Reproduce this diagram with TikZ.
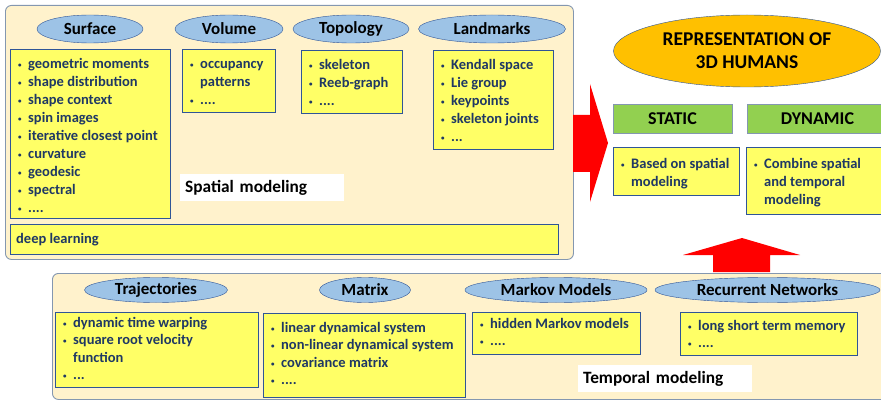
\documentclass[tikz,border=0pt]{standalone}
\usepackage{fontspec}
\setmainfont{Carlito}
\usetikzlibrary{shapes.geometric}

\definecolor{crema}{HTML}{FFF2CC}
\definecolor{amarillo}{HTML}{FFFF66}
\definecolor{celeste}{HTML}{9DC3E6}
\definecolor{oro}{HTML}{FFC000}
\definecolor{verde}{HTML}{92D050}
\definecolor{marino}{HTML}{1F3864}
\definecolor{azul}{HTML}{2F5597}
\definecolor{gris}{HTML}{8497B0}

\def\interlinea{18}
\newcommand{\itm}{\par\noindent\rule{0pt}{13pt}\llap{\makebox[10pt][l]{\raisebox{1pt}{\scriptsize\textbullet}}}}
\newcommand{\lista}[4][6]{\parbox[c][#3pt][t]{#2pt}{\fontsize{14.5}{\interlinea}\selectfont\raggedright
  \leftskip=18pt\parindent=0pt\vspace*{#1pt}#4\par}}

\tikzset{
  marco/.style={draw=gris,fill=crema,line width=0.9pt,rounded corners=6pt,anchor=north west,inner sep=0pt},
  titulo/.style={ellipse,draw=azul,fill=celeste,inner sep=0pt,font=\fontsize{17}{19}\selectfont\bfseries},
  cuadro/.style={draw=azul,fill=amarillo,anchor=north west,inner sep=0pt,text=marino,font=\bfseries},
  verdebox/.style={draw=gris,fill=verde,line width=0.8pt,inner sep=0pt,font=\fontsize{18}{20}\selectfont\bfseries},
  rotulo/.style={fill=white,anchor=north west,inner xsep=5pt,inner ysep=0pt,align=left,font=\fontsize{17.3}{19}\selectfont\bfseries}
}

\begin{document}
\begin{tikzpicture}[x=1pt,y=-1pt]
\useasboundingbox (0,0) rectangle (881,401);
\clip (0,0) rectangle (881,401);

% espacial
\node[marco,minimum width=568pt,minimum height=254pt] (spatial) at (5,5) {};
\node[titulo,minimum width=106pt,minimum height=28pt] (surface) at (90,29) {Surface};
\node[titulo,minimum width=108pt,minimum height=28pt] (volume) at (229,29) {Volume};
\node[titulo,minimum width=116pt,minimum height=28pt] (topology) at (351,29) {Topology};
\node[titulo,minimum width=147pt,minimum height=28pt] (landmarks) at (492,29) {Landmarks};
\node[cuadro] (surfacelist) at (10,49) {\lista{160}{169}{\itm geometric moments\itm shape distribution\itm shape context\itm spin images\itm iterative closest point\itm curvature\itm geodesic\itm spectral\itm ....}};
\node[cuadro] (volumelist) at (182,49) {\lista{93}{63}{\itm occupancy\\patterns\itm ....}};
\node[cuadro] (topologylist) at (301,50) {\lista{101}{63}{\itm skeleton\itm Reeb-graph\itm ....}};
\node[cuadro] (landmarklist) at (433,50) {\lista{120}{99}{\itm Kendall space\itm Lie group\itm keypoints\itm skeleton joints\itm ...}};
\node[rotulo,text width=154pt,minimum height=27pt] (spatiallabel) at (180,174) {Spatial modeling};
\node[cuadro] (deep) at (10,224) {\parbox[c][30pt][c]{548pt}{\fontsize{14.5}{16}\selectfont\hspace*{6pt}deep learning}};

% temporal
\def\interlinea{17.5}
\node[marco,minimum width=836pt,minimum height=126pt] (temporal) at (52,273) {};
\node[titulo,minimum width=143pt,minimum height=25pt] (trajectories) at (156,290) {Trajectories};
\node[titulo,minimum width=91pt,minimum height=25pt] (matrix) at (365,290) {Matrix};
\node[titulo,minimum width=182pt,minimum height=25pt] (markov) at (556,290) {Markov Models};
\node[titulo,minimum width=225pt,minimum height=25pt] (recurrent) at (767.5,290) {Recurrent Networks};
\node[cuadro] (trajlist) at (55,312) {\lista[2]{203}{75}{\itm dynamic time warping\itm square root velocity\\function\itm ...}};
\node[cuadro] (matrixlist) at (263,313) {\lista[6]{202}{84}{\itm linear dynamical system\itm non-linear dynamical system\itm covariance matrix\itm ....}};
\node[cuadro] (markovlist) at (472,312) {\lista[3]{168}{42}{\itm hidden Markov models\itm ....}};
\node[cuadro] (recurrentlist) at (680,312) {\lista[5]{177}{43}{\itm long short term memory\itm ....}};
\node[rotulo,text width=164pt,minimum height=27pt] (temporallabel) at (578,365) {Temporal modeling};

% flechas
\fill[red] (573,115) -- (590,115) -- (590,84) -- (608,143) -- (590,202) -- (590,172) -- (573,172) -- cycle;
\fill[red] (713,272) -- (713,255) -- (683,255) -- (742,238) -- (800,255) -- (770,255) -- (770,272) -- cycle;

% representacion
\def\interlinea{18}
\node[ellipse,draw=azul,fill=oro,inner sep=0pt,minimum width=267pt,minimum height=72pt,align=center,
  font=\fontsize{19.5}{23}\selectfont\bfseries] (repr) at (747,51) {REPRESENTATION OF\\3D HUMANS};
\node[verdebox,minimum width=119pt,minimum height=29pt] (static) at (672.5,118.5) {STATIC};
\node[verdebox,minimum width=141pt,minimum height=29pt] (dynamic) at (817.5,118.5) {DYNAMIC};
\node[cuadro] (staticlist) at (613,147) {\lista[8]{126}{48}{\itm Based on spatial\\modeling}};
\node[cuadro] (dynamiclist) at (746,147) {\lista[8]{142}{67}{\itm Combine spatial\\and temporal\\modeling}};
\end{tikzpicture}
\end{document}
